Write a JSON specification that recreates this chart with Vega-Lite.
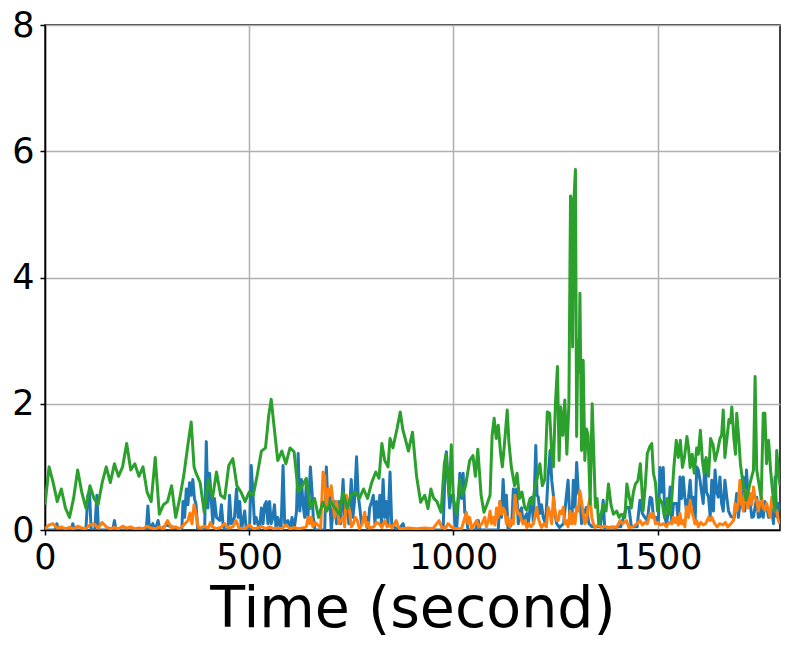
{
"$schema":"https://vega.github.io/schema/vega-lite/v6.json",
"width":735,"height":505,
"autosize":{"type":"none"},
"padding":{"left":45,"top":25,"right":13,"bottom":121},
"background":"white",
"config":{"view":{"stroke":"black","strokeWidth":1.5},"font":"DejaVu Sans"},
"encoding":{
 "x":{"field":"t","type":"quantitative","scale":{"domain":[0,1800],"nice":false,"zero":false},
  "axis":{"title":"Time (second)","values":[0,500,1000,1500],"format":"d","grid":true,"gridColor":"#b0b0b0","gridWidth":1.5,"domainColor":"black","domainWidth":1.5,"tickColor":"black","tickWidth":1.5,"tickSize":5,"labelPadding":5,"labelFontSize":35,"labelColor":"black","labelFont":"DejaVu Sans","labelFlush":false,"titleFontSize":57,"titleFont":"DejaVu Sans","titleFontWeight":"normal","titleColor":"black","titlePadding":6}},
 "y":{"field":"v","type":"quantitative","scale":{"domain":[0,8],"nice":false},
  "axis":{"title":null,"values":[0,2,4,6,8],"format":"d","grid":true,"gridColor":"#b0b0b0","gridWidth":1.5,"domainColor":"black","domainWidth":1.5,"tickColor":"black","tickWidth":1.5,"tickSize":5,"labelPadding":6,"labelFontSize":35,"labelColor":"black","labelFont":"DejaVu Sans","labelFlush":false}}
},
"layer":[
{"data":{"values":[
{"t":0,"v":0},{"t":25,"v":0},{"t":29,"v":0.1},{"t":33,"v":0},{"t":64,"v":0},{"t":68,"v":0.1},{"t":72,"v":0},{"t":100,"v":0},{"t":105,"v":0.55},{"t":109,"v":0.6},{"t":113,"v":0},{"t":122,"v":0},{"t":127,"v":0.55},{"t":131,"v":0},{"t":166,"v":0},{"t":170,"v":0.15},{"t":174,"v":0},{"t":248,"v":0},{"t":252,"v":0.38},{"t":256,"v":0},{"t":264,"v":0.1},{"t":270,"v":0},{"t":277,"v":0.15},{"t":281,"v":0},{"t":297,"v":0.08},{"t":335,"v":0},{"t":338,"v":0.45},{"t":342,"v":0.2},{"t":346,"v":0.65},{"t":350,"v":0.4},{"t":354,"v":0.75},{"t":358,"v":0.55},{"t":362,"v":0.8},{"t":366,"v":0.5},{"t":370,"v":0.4},{"t":374,"v":0},{"t":391,"v":0},{"t":395,"v":1.4},{"t":399,"v":0.35},{"t":403,"v":0.9},{"t":407,"v":0.5},{"t":411,"v":0.1},{"t":415,"v":0.5},{"t":420,"v":0.2},{"t":428,"v":0.15},{"t":432,"v":0.4},{"t":436,"v":0.1},{"t":440,"v":0},{"t":448,"v":0},{"t":452,"v":0.55},{"t":456,"v":0.1},{"t":464,"v":0.2},{"t":469,"v":0.65},{"t":473,"v":0.2},{"t":477,"v":0.45},{"t":481,"v":0},{"t":489,"v":0.3},{"t":493,"v":0},{"t":501,"v":0},{"t":505,"v":1.02},{"t":509,"v":0.6},{"t":513,"v":0.1},{"t":517,"v":0.2},{"t":525,"v":0},{"t":530,"v":0.35},{"t":534,"v":0.1},{"t":538,"v":0.4},{"t":542,"v":0.45},{"t":546,"v":0.1},{"t":550,"v":0.45},{"t":554,"v":0.1},{"t":558,"v":0.2},{"t":562,"v":0.4},{"t":566,"v":0},{"t":570,"v":0.2},{"t":578,"v":0},{"t":583,"v":1.02},{"t":587,"v":0.1},{"t":595,"v":0.15},{"t":600,"v":0},{"t":605,"v":0.2},{"t":610,"v":0},{"t":616,"v":0.3},{"t":620,"v":1.21},{"t":624,"v":0.3},{"t":628,"v":0.8},{"t":632,"v":0.4},{"t":636,"v":0.2},{"t":640,"v":0.75},{"t":644,"v":0.2},{"t":650,"v":1.0},{"t":654,"v":0.6},{"t":657,"v":0.2},{"t":661,"v":0},{"t":685,"v":0},{"t":689,"v":1.0},{"t":693,"v":0.4},{"t":697,"v":0.55},{"t":701,"v":0},{"t":707,"v":0.4},{"t":710,"v":0.45},{"t":714,"v":0.1},{"t":720,"v":0.45},{"t":724,"v":0.1},{"t":730,"v":0.8},{"t":734,"v":0.2},{"t":740,"v":0.45},{"t":744,"v":0.1},{"t":750,"v":0.8},{"t":754,"v":0.2},{"t":758,"v":0.45},{"t":763,"v":1.16},{"t":767,"v":0.55},{"t":771,"v":0.35},{"t":775,"v":0.1},{"t":780,"v":0.2},{"t":787,"v":0.2},{"t":791,"v":0},{"t":795,"v":0.35},{"t":800,"v":0.45},{"t":804,"v":0.55},{"t":808,"v":0.1},{"t":812,"v":0.45},{"t":816,"v":0.2},{"t":820,"v":0.55},{"t":824,"v":0.1},{"t":828,"v":0.8},{"t":832,"v":0.2},{"t":836,"v":0.45},{"t":840,"v":0.1},{"t":845,"v":0.92},{"t":849,"v":0.1},{"t":855,"v":0.05},{"t":865,"v":0},{"t":877,"v":0.1},{"t":881,"v":0},{"t":975,"v":0},{"t":979,"v":0.8},{"t":983,"v":1.24},{"t":987,"v":0.8},{"t":991,"v":0.35},{"t":995,"v":0.55},{"t":1000,"v":0.55},{"t":1004,"v":0.1},{"t":1008,"v":0},{"t":1016,"v":0.9},{"t":1020,"v":0.5},{"t":1024,"v":0.9},{"t":1028,"v":0.28},{"t":1032,"v":0.2},{"t":1036,"v":0},{"t":1055,"v":0},{"t":1061,"v":0.15},{"t":1065,"v":0},{"t":1110,"v":0},{"t":1114,"v":0.45},{"t":1118,"v":0.2},{"t":1122,"v":0.8},{"t":1126,"v":0.3},{"t":1130,"v":0.55},{"t":1134,"v":0},{"t":1143,"v":0.1},{"t":1147,"v":0.65},{"t":1151,"v":0.4},{"t":1155,"v":0.65},{"t":1159,"v":0.1},{"t":1163,"v":0.3},{"t":1167,"v":0.35},{"t":1171,"v":0.1},{"t":1175,"v":0.2},{"t":1180,"v":0.26},{"t":1184,"v":0.1},{"t":1188,"v":0.36},{"t":1192,"v":0.52},{"t":1196,"v":0.1},{"t":1202,"v":1.34},{"t":1205,"v":0.55},{"t":1208,"v":0.52},{"t":1212,"v":0.26},{"t":1216,"v":0.4},{"t":1220,"v":0.2},{"t":1226,"v":0.1},{"t":1232,"v":0.84},{"t":1237,"v":1.26},{"t":1241,"v":0.79},{"t":1245,"v":0.55},{"t":1249,"v":0.26},{"t":1253,"v":0.1},{"t":1260,"v":0.04},{"t":1270,"v":0.1},{"t":1277,"v":0.55},{"t":1281,"v":0.79},{"t":1285,"v":0.2},{"t":1290,"v":0.1},{"t":1294,"v":0.79},{"t":1298,"v":0.36},{"t":1302,"v":1.07},{"t":1306,"v":0.6},{"t":1310,"v":0.52},{"t":1314,"v":0.1},{"t":1320,"v":0.26},{"t":1326,"v":0.36},{"t":1332,"v":0.1},{"t":1340,"v":0.05},{"t":1360,"v":0.05},{"t":1367,"v":0.47},{"t":1371,"v":0},{"t":1395,"v":0},{"t":1400,"v":0.05},{"t":1410,"v":0.05},{"t":1424,"v":0.36},{"t":1430,"v":0.36},{"t":1436,"v":0.05},{"t":1450,"v":0.05},{"t":1457,"v":0.47},{"t":1463,"v":0.26},{"t":1469,"v":0.2},{"t":1475,"v":0.15},{"t":1482,"v":0.52},{"t":1486,"v":0.5},{"t":1490,"v":0.2},{"t":1498,"v":0.2},{"t":1502,"v":0.1},{"t":1506,"v":0.99},{"t":1510,"v":0.6},{"t":1514,"v":0.99},{"t":1518,"v":0.2},{"t":1522,"v":0.1},{"t":1527,"v":0.3},{"t":1531,"v":0.68},{"t":1535,"v":0.1},{"t":1539,"v":0.42},{"t":1547,"v":0.42},{"t":1551,"v":0.1},{"t":1555,"v":0.84},{"t":1559,"v":0.5},{"t":1563,"v":0.84},{"t":1567,"v":0.52},{"t":1571,"v":0.3},{"t":1576,"v":0.52},{"t":1580,"v":0.79},{"t":1584,"v":0.4},{"t":1588,"v":0.52},{"t":1592,"v":0.1},{"t":1596,"v":1.0},{"t":1600,"v":0.95},{"t":1604,"v":0.79},{"t":1608,"v":0.6},{"t":1612,"v":0.42},{"t":1616,"v":1.1},{"t":1620,"v":0.6},{"t":1625,"v":0.52},{"t":1629,"v":0.21},{"t":1633,"v":0.79},{"t":1637,"v":0.3},{"t":1641,"v":0.95},{"t":1645,"v":0.6},{"t":1649,"v":0.52},{"t":1653,"v":0.84},{"t":1657,"v":0.42},{"t":1661,"v":0.3},{"t":1665,"v":0.79},{"t":1670,"v":0.5},{"t":1674,"v":0.3},{"t":1680,"v":0.21},{"t":1688,"v":0.2},{"t":1694,"v":0.58},{"t":1698,"v":0.2},{"t":1702,"v":0.42},{"t":1706,"v":0.5},{"t":1710,"v":0.84},{"t":1714,"v":0.3},{"t":1718,"v":0.95},{"t":1722,"v":0.5},{"t":1727,"v":0.42},{"t":1731,"v":0.2},{"t":1735,"v":0.21},{"t":1743,"v":0.52},{"t":1747,"v":0.2},{"t":1751,"v":0.21},{"t":1755,"v":0.42},{"t":1759,"v":0.2},{"t":1763,"v":0.45},{"t":1767,"v":0.4},{"t":1772,"v":0.2},{"t":1776,"v":0.3},{"t":1780,"v":0.32},{"t":1784,"v":0.1},{"t":1788,"v":0.84},{"t":1792,"v":0.21},{"t":1796,"v":0.42},{"t":1800,"v":0.3}
]},"mark":{"type":"line","color":"#1f77b4","strokeWidth":3,"strokeJoin":"round","clip":true}},
{"data":{"values":[
{"t":0,"v":0.02},{"t":10,"v":0.08},{"t":20,"v":0.1},{"t":30,"v":0.03},{"t":40,"v":0.05},{"t":50,"v":0.02},{"t":60,"v":0.04},{"t":70,"v":0.02},{"t":80,"v":0.06},{"t":90,"v":0.03},{"t":100,"v":0.02},{"t":110,"v":0.08},{"t":120,"v":0.1},{"t":130,"v":0.03},{"t":140,"v":0.12},{"t":150,"v":0.05},{"t":160,"v":0.02},{"t":170,"v":0.04},{"t":180,"v":0.02},{"t":190,"v":0.06},{"t":200,"v":0.03},{"t":210,"v":0.05},{"t":220,"v":0.02},{"t":230,"v":0.03},{"t":240,"v":0.02},{"t":250,"v":0.06},{"t":260,"v":0.03},{"t":270,"v":0.02},{"t":280,"v":0.05},{"t":290,"v":0.02},{"t":300,"v":0.15},{"t":310,"v":0.03},{"t":320,"v":0.05},{"t":330,"v":0.02},{"t":340,"v":0.08},{"t":350,"v":0.15},{"t":355,"v":0.27},{"t":360,"v":0.1},{"t":365,"v":0.4},{"t":370,"v":0.25},{"t":375,"v":0.05},{"t":380,"v":0.03},{"t":390,"v":0.06},{"t":400,"v":0.03},{"t":405,"v":0.12},{"t":410,"v":0.05},{"t":420,"v":0.02},{"t":430,"v":0.04},{"t":440,"v":0.1},{"t":450,"v":0.03},{"t":460,"v":0.05},{"t":468,"v":0.15},{"t":475,"v":0.03},{"t":490,"v":0.02},{"t":500,"v":0.08},{"t":510,"v":0.02},{"t":520,"v":0.03},{"t":530,"v":0.06},{"t":540,"v":0.02},{"t":550,"v":0.05},{"t":560,"v":0.02},{"t":570,"v":0.03},{"t":580,"v":0.02},{"t":590,"v":0.08},{"t":600,"v":0.02},{"t":610,"v":0.04},{"t":620,"v":0.02},{"t":630,"v":0.03},{"t":640,"v":0.05},{"t":644,"v":0.2},{"t":648,"v":0.1},{"t":652,"v":0.2},{"t":656,"v":0.05},{"t":662,"v":0.12},{"t":668,"v":0.08},{"t":675,"v":0.03},{"t":681,"v":0.92},{"t":685,"v":0.85},{"t":689,"v":0.3},{"t":693,"v":0.65},{"t":697,"v":0.55},{"t":701,"v":0.7},{"t":705,"v":0.45},{"t":709,"v":0.2},{"t":714,"v":0.45},{"t":720,"v":0.1},{"t":725,"v":0.15},{"t":730,"v":0.2},{"t":734,"v":0.05},{"t":738,"v":0.55},{"t":742,"v":0.45},{"t":746,"v":0.28},{"t":750,"v":0.05},{"t":755,"v":0.1},{"t":760,"v":0.2},{"t":765,"v":0.15},{"t":770,"v":0.02},{"t":777,"v":0.1},{"t":783,"v":0.28},{"t":787,"v":0.05},{"t":791,"v":0.12},{"t":795,"v":0.03},{"t":805,"v":0.05},{"t":812,"v":0.12},{"t":818,"v":0.1},{"t":825,"v":0.04},{"t":832,"v":0.15},{"t":838,"v":0.05},{"t":845,"v":0.08},{"t":850,"v":0.03},{"t":860,"v":0.15},{"t":865,"v":0.05},{"t":870,"v":0.02},{"t":890,"v":0.03},{"t":910,"v":0.02},{"t":930,"v":0.03},{"t":950,"v":0.02},{"t":965,"v":0.15},{"t":971,"v":0.05},{"t":980,"v":0.02},{"t":987,"v":0.1},{"t":995,"v":0.05},{"t":1005,"v":0.02},{"t":1020,"v":0.02},{"t":1032,"v":0.28},{"t":1036,"v":0.1},{"t":1040,"v":0.2},{"t":1045,"v":0.02},{"t":1057,"v":0.15},{"t":1062,"v":0.05},{"t":1070,"v":0.1},{"t":1077,"v":0.2},{"t":1081,"v":0.05},{"t":1086,"v":0.15},{"t":1090,"v":0.3},{"t":1094,"v":0.1},{"t":1098,"v":0.2},{"t":1102,"v":0.08},{"t":1106,"v":0.35},{"t":1110,"v":0.2},{"t":1114,"v":0.45},{"t":1118,"v":0.25},{"t":1122,"v":0.35},{"t":1126,"v":0.3},{"t":1130,"v":0.1},{"t":1134,"v":0.2},{"t":1138,"v":0.05},{"t":1143,"v":0.15},{"t":1147,"v":0.1},{"t":1151,"v":0.55},{"t":1155,"v":0.35},{"t":1159,"v":0.25},{"t":1163,"v":0.26},{"t":1167,"v":0.15},{"t":1171,"v":0.1},{"t":1175,"v":0.15},{"t":1180,"v":0.04},{"t":1185,"v":0.1},{"t":1190,"v":0.05},{"t":1196,"v":0.1},{"t":1200,"v":0.2},{"t":1204,"v":0.36},{"t":1208,"v":0.2},{"t":1212,"v":0.1},{"t":1216,"v":0.04},{"t":1222,"v":0.1},{"t":1228,"v":0.05},{"t":1232,"v":0.36},{"t":1237,"v":0.26},{"t":1241,"v":0.1},{"t":1245,"v":0.52},{"t":1249,"v":0.3},{"t":1253,"v":0.15},{"t":1257,"v":0.15},{"t":1261,"v":0.3},{"t":1265,"v":0.26},{"t":1269,"v":0.36},{"t":1273,"v":0.1},{"t":1277,"v":0.15},{"t":1281,"v":0.05},{"t":1286,"v":0.3},{"t":1290,"v":0.1},{"t":1294,"v":0.26},{"t":1298,"v":0.1},{"t":1302,"v":0.36},{"t":1306,"v":0.3},{"t":1310,"v":0.62},{"t":1314,"v":0.45},{"t":1318,"v":0.26},{"t":1322,"v":0.1},{"t":1326,"v":0.15},{"t":1330,"v":0.36},{"t":1335,"v":0.52},{"t":1339,"v":0.2},{"t":1343,"v":0.1},{"t":1347,"v":0.04},{"t":1355,"v":0.08},{"t":1362,"v":0.04},{"t":1370,"v":0.06},{"t":1380,"v":0.04},{"t":1390,"v":0.05},{"t":1400,"v":0.04},{"t":1408,"v":0.15},{"t":1415,"v":0.1},{"t":1424,"v":0.15},{"t":1430,"v":0.04},{"t":1440,"v":0.05},{"t":1450,"v":0.1},{"t":1457,"v":0.15},{"t":1463,"v":0.08},{"t":1469,"v":0.12},{"t":1475,"v":0.1},{"t":1482,"v":0.26},{"t":1486,"v":0.2},{"t":1490,"v":0.26},{"t":1495,"v":0.1},{"t":1500,"v":0.12},{"t":1508,"v":0.08},{"t":1515,"v":0.1},{"t":1522,"v":0.05},{"t":1528,"v":0.12},{"t":1535,"v":0.1},{"t":1539,"v":0.2},{"t":1543,"v":0.12},{"t":1547,"v":0.2},{"t":1551,"v":0.08},{"t":1555,"v":0.26},{"t":1559,"v":0.1},{"t":1563,"v":0.15},{"t":1567,"v":0.05},{"t":1571,"v":0.37},{"t":1576,"v":0.2},{"t":1580,"v":0.47},{"t":1584,"v":0.3},{"t":1588,"v":0.2},{"t":1592,"v":0.1},{"t":1596,"v":0.15},{"t":1600,"v":0.05},{"t":1606,"v":0.12},{"t":1612,"v":0.08},{"t":1618,"v":0.1},{"t":1625,"v":0.2},{"t":1629,"v":0.15},{"t":1633,"v":0.2},{"t":1640,"v":0.1},{"t":1646,"v":0.05},{"t":1652,"v":0.1},{"t":1660,"v":0.08},{"t":1666,"v":0.12},{"t":1672,"v":0.05},{"t":1680,"v":0.1},{"t":1686,"v":0.15},{"t":1690,"v":0.42},{"t":1694,"v":0.3},{"t":1698,"v":0.42},{"t":1702,"v":0.79},{"t":1706,"v":0.42},{"t":1710,"v":0.3},{"t":1714,"v":0.63},{"t":1718,"v":0.47},{"t":1722,"v":0.35},{"t":1727,"v":0.58},{"t":1731,"v":0.4},{"t":1735,"v":0.68},{"t":1739,"v":0.5},{"t":1743,"v":0.47},{"t":1747,"v":0.3},{"t":1751,"v":0.42},{"t":1755,"v":0.52},{"t":1759,"v":0.35},{"t":1763,"v":0.31},{"t":1767,"v":0.42},{"t":1772,"v":0.3},{"t":1776,"v":0.2},{"t":1780,"v":0.52},{"t":1784,"v":0.4},{"t":1788,"v":0.3},{"t":1792,"v":0.31},{"t":1796,"v":0.15},{"t":1800,"v":0.1}
]},"mark":{"type":"line","color":"#ff7f0e","strokeWidth":3,"strokeJoin":"round","clip":true}},
{"data":{"values":[
{"t":0,"v":0.4},{"t":10,"v":1.0},{"t":20,"v":0.75},{"t":30,"v":0.45},{"t":40,"v":0.65},{"t":50,"v":0.35},{"t":60,"v":0.2},{"t":70,"v":0.5},{"t":80,"v":0.95},{"t":90,"v":0.6},{"t":100,"v":0.35},{"t":110,"v":0.7},{"t":120,"v":0.5},{"t":130,"v":0.4},{"t":140,"v":0.75},{"t":150,"v":1.0},{"t":160,"v":0.75},{"t":170,"v":1.05},{"t":180,"v":0.85},{"t":190,"v":1.0},{"t":200,"v":1.37},{"t":210,"v":0.95},{"t":220,"v":1.05},{"t":230,"v":0.85},{"t":240,"v":1.0},{"t":250,"v":0.6},{"t":260,"v":0.45},{"t":270,"v":1.15},{"t":280,"v":0.25},{"t":290,"v":0.4},{"t":300,"v":0.45},{"t":310,"v":0.7},{"t":320,"v":0.2},{"t":330,"v":0.5},{"t":340,"v":0.87},{"t":350,"v":1.35},{"t":358,"v":1.71},{"t":365,"v":1.0},{"t":370,"v":0.9},{"t":380,"v":0.75},{"t":390,"v":0.28},{"t":400,"v":0.8},{"t":410,"v":0.5},{"t":420,"v":0.92},{"t":430,"v":0.55},{"t":440,"v":0.5},{"t":450,"v":1.02},{"t":460,"v":1.13},{"t":470,"v":0.7},{"t":480,"v":0.6},{"t":490,"v":0.45},{"t":500,"v":0.6},{"t":510,"v":0.55},{"t":520,"v":0.88},{"t":530,"v":1.25},{"t":540,"v":1.3},{"t":548,"v":1.82},{"t":554,"v":2.07},{"t":560,"v":1.7},{"t":570,"v":1.1},{"t":580,"v":1.25},{"t":590,"v":1.05},{"t":600,"v":1.3},{"t":610,"v":1.24},{"t":620,"v":0.6},{"t":630,"v":0.7},{"t":640,"v":0.82},{"t":650,"v":0.34},{"t":660,"v":0.5},{"t":670,"v":0.2},{"t":680,"v":0.44},{"t":690,"v":0.3},{"t":700,"v":0.45},{"t":710,"v":0.35},{"t":720,"v":0.25},{"t":730,"v":0.6},{"t":740,"v":0.34},{"t":750,"v":0.55},{"t":760,"v":0.6},{"t":770,"v":0.5},{"t":780,"v":0.65},{"t":790,"v":0.5},{"t":800,"v":0.75},{"t":810,"v":0.92},{"t":818,"v":0.82},{"t":825,"v":1.37},{"t":832,"v":1.1},{"t":840,"v":1.0},{"t":845,"v":1.45},{"t":852,"v":1.3},{"t":862,"v":1.6},{"t":870,"v":1.87},{"t":876,"v":1.6},{"t":882,"v":1.45},{"t":890,"v":1.25},{"t":900,"v":1.55},{"t":910,"v":0.85},{"t":920,"v":0.44},{"t":930,"v":0.55},{"t":938,"v":0.34},{"t":945,"v":0.65},{"t":952,"v":0.5},{"t":960,"v":0.45},{"t":970,"v":0.28},{"t":978,"v":1.05},{"t":982,"v":1.2},{"t":990,"v":0.55},{"t":995,"v":1.35},{"t":1000,"v":0.5},{"t":1008,"v":0.25},{"t":1016,"v":0.8},{"t":1022,"v":0.55},{"t":1030,"v":0.7},{"t":1040,"v":1.1},{"t":1048,"v":1.18},{"t":1054,"v":0.85},{"t":1060,"v":1.28},{"t":1068,"v":0.55},{"t":1075,"v":0.28},{"t":1082,"v":0.4},{"t":1090,"v":0.55},{"t":1095,"v":1.5},{"t":1100,"v":1.77},{"t":1105,"v":1.45},{"t":1110,"v":1.66},{"t":1116,"v":1.2},{"t":1120,"v":1.0},{"t":1125,"v":1.35},{"t":1132,"v":1.9},{"t":1136,"v":1.4},{"t":1142,"v":1.0},{"t":1150,"v":0.7},{"t":1156,"v":0.9},{"t":1162,"v":0.5},{"t":1168,"v":0.6},{"t":1175,"v":0.35},{"t":1180,"v":0.31},{"t":1188,"v":0.5},{"t":1194,"v":0.4},{"t":1200,"v":0.68},{"t":1206,"v":0.84},{"t":1212,"v":1.05},{"t":1218,"v":0.7},{"t":1224,"v":0.8},{"t":1230,"v":1.87},{"t":1236,"v":1.85},{"t":1241,"v":1.2},{"t":1245,"v":1.0},{"t":1250,"v":2.0},{"t":1255,"v":2.59},{"t":1259,"v":1.1},{"t":1263,"v":1.95},{"t":1268,"v":1.5},{"t":1273,"v":2.06},{"t":1278,"v":1.2},{"t":1283,"v":2.0},{"t":1287,"v":5.29},{"t":1290,"v":5.2},{"t":1292,"v":2.9},{"t":1295,"v":5.18},{"t":1299,"v":5.71},{"t":1302,"v":1.48},{"t":1305,"v":3.0},{"t":1308,"v":2.5},{"t":1310,"v":3.75},{"t":1314,"v":1.26},{"t":1318,"v":2.69},{"t":1322,"v":1.1},{"t":1326,"v":1.6},{"t":1330,"v":1.5},{"t":1335,"v":0.41},{"t":1340,"v":2.0},{"t":1344,"v":1.2},{"t":1348,"v":0.36},{"t":1352,"v":0.5},{"t":1356,"v":0.1},{"t":1362,"v":0.25},{"t":1368,"v":0.4},{"t":1374,"v":0.3},{"t":1380,"v":0.73},{"t":1386,"v":0.4},{"t":1392,"v":0.25},{"t":1400,"v":0.3},{"t":1406,"v":0.2},{"t":1412,"v":0.25},{"t":1420,"v":0.2},{"t":1425,"v":0.73},{"t":1430,"v":0.55},{"t":1436,"v":0.35},{"t":1441,"v":0.6},{"t":1446,"v":0.73},{"t":1452,"v":0.78},{"t":1458,"v":1.05},{"t":1465,"v":0.31},{"t":1470,"v":0.7},{"t":1475,"v":1.21},{"t":1481,"v":1.32},{"t":1486,"v":1.37},{"t":1490,"v":0.9},{"t":1495,"v":0.75},{"t":1500,"v":0.3},{"t":1505,"v":0.5},{"t":1512,"v":0.42},{"t":1517,"v":0.2},{"t":1524,"v":0.5},{"t":1530,"v":0.25},{"t":1535,"v":0.5},{"t":1540,"v":0.99},{"t":1546,"v":1.42},{"t":1551,"v":1.15},{"t":1556,"v":1.42},{"t":1561,"v":0.99},{"t":1566,"v":1.15},{"t":1572,"v":1.48},{"t":1576,"v":1.3},{"t":1580,"v":0.99},{"t":1585,"v":1.2},{"t":1590,"v":0.9},{"t":1596,"v":1.3},{"t":1600,"v":1.2},{"t":1605,"v":1.58},{"t":1610,"v":1.1},{"t":1614,"v":0.9},{"t":1619,"v":1.15},{"t":1625,"v":0.85},{"t":1630,"v":1.45},{"t":1636,"v":1.35},{"t":1641,"v":1.1},{"t":1647,"v":1.25},{"t":1653,"v":1.45},{"t":1657,"v":1.5},{"t":1661,"v":1.9},{"t":1665,"v":1.15},{"t":1670,"v":1.45},{"t":1675,"v":1.75},{"t":1679,"v":1.7},{"t":1682,"v":1.95},{"t":1687,"v":1.45},{"t":1691,"v":1.2},{"t":1694,"v":1.85},{"t":1699,"v":1.45},{"t":1703,"v":1.05},{"t":1707,"v":0.85},{"t":1711,"v":0.68},{"t":1717,"v":0.47},{"t":1722,"v":0.6},{"t":1728,"v":0.78},{"t":1735,"v":0.95},{"t":1739,"v":2.43},{"t":1743,"v":0.95},{"t":1748,"v":0.75},{"t":1754,"v":0.5},{"t":1759,"v":1.85},{"t":1763,"v":1.85},{"t":1767,"v":1.05},{"t":1772,"v":1.42},{"t":1777,"v":0.95},{"t":1782,"v":0.6},{"t":1788,"v":0.31},{"t":1792,"v":1.26},{"t":1796,"v":0.95},{"t":1800,"v":0.7}
]},"mark":{"type":"line","color":"#2ca02c","strokeWidth":3,"strokeJoin":"round","clip":true}}
]
}
